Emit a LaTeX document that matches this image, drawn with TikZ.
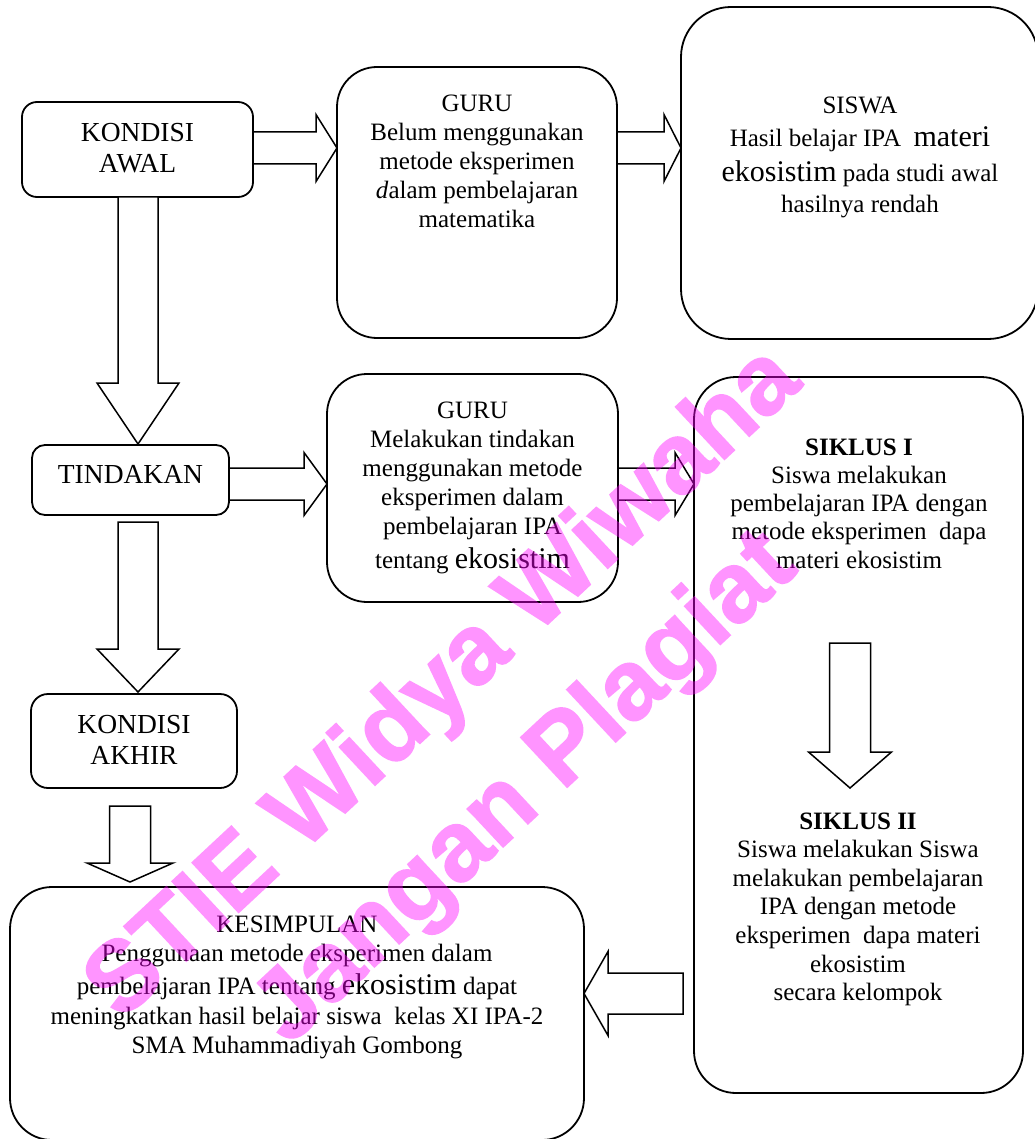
\documentclass[tikz,border=0pt]{standalone}
\usepackage{fontspec}
\setmainfont{Liberation Serif}
\newfontfamily\wmfont[BoldFeatures={FakeBold=1.5}]{Liberation Sans}
\definecolor{wmpink}{RGB}{255,0,255}
\newcommand\ml[1]{\begin{tabular}[t]{@{}c@{}}#1\end{tabular}}
\newcommand\eko{{\fontsize{30}{34}\selectfont ekosistim}}
% right/left block arrow: shaft start x, head base x, centre y, shaft half, head half, tip x
\newcommand\arrH[6]{\draw[barrow] (#1,#3-#4) -- (#2,#3-#4) -- (#2,#3-#5) -- (#6,#3) -- (#2,#3+#5) -- (#2,#3+#4) -- (#1,#3+#4) -- cycle;}
% down block arrow: shaft start y, head base y, centre x, shaft half, head half, tip y
\newcommand\arrV[6]{\draw[barrow] (#3-#4,#1) -- (#3-#4,#2) -- (#3-#5,#2) -- (#3,#6) -- (#3+#5,#2) -- (#3+#4,#2) -- (#3+#4,#1) -- cycle;}
\tikzset{
  box/.style={draw, line width=1.8pt, inner sep=0pt},
  barrow/.style={draw, line width=1.5pt, fill=white, line join=miter},
  txt/.style={inner sep=0pt, anchor=base, font=\fontsize{25}{29}\selectfont},
  bigtxt/.style={inner sep=0pt, anchor=base, font=\fontsize{27.5}{31}\selectfont},
  wm/.style={rotate=43, text=wmpink, inner sep=0pt,
             font=\wmfont\bfseries\fontsize{99}{99}\selectfont}
}
\begin{document}
\begin{tikzpicture}[x=1pt,y=-1pt]
\useasboundingbox (0,0) rectangle (1034,1139);

% boxes
\node[box, rounded corners=15pt, minimum width=231pt, minimum height=95pt] (kawal) at (137.5,149.5) {};
\node[box, rounded corners=40pt, minimum width=280pt, minimum height=271pt] (guru1) at (477,202.5) {};
\node[box, rounded corners=50pt, minimum width=357pt, minimum height=332pt] (siswa) at (859.5,173) {};
\node[box, rounded corners=13pt, minimum width=197pt, minimum height=70pt] (tind) at (130.5,480) {};
\node[box, rounded corners=40pt, minimum width=291pt, minimum height=228pt] (guru2) at (472.5,488) {};
\node[box, rounded corners=42pt, minimum width=329pt, minimum height=716pt] (siklus) at (858.5,735) {};
\node[box, rounded corners=17pt, minimum width=206pt, minimum height=94pt] (kakhir) at (134,741) {};
\node[box, rounded corners=42pt, minimum width=574pt, minimum height=253pt] (kesim) at (297,1013.5) {};

% block arrows
\arrH{253}{316}{148}{16}{33.5}{337}
\arrH{617}{664}{148}{16}{33.5}{681}
\arrV{197}{383}{138}{20}{41}{444}
\arrH{229}{304}{484}{16}{31.5}{327}
\arrH{618}{675}{484}{16}{31.5}{694}
\arrV{522}{649}{138}{20}{41}{692}
\arrV{806}{863}{130}{20.5}{43}{882}
\arrH{683}{608}{993.5}{20.5}{42}{584}
\arrV{643}{752}{850}{20.5}{41.5}{788}

% texts
\node[bigtxt] (tkawal) at (137.5,142) {\ml{KONDISI\\AWAL}};
\node[txt] (tguru1) at (477,112) {\ml{GURU\\Belum menggunakan\\metode eksperimen\\\textit{d}alam pembelajaran\\matematika}};
\node[txt] (tsiswa) at (860,114) {\ml{SISWA\\[4pt]Hasil belajar IPA~ {\fontsize{30}{34}\selectfont materi}\\[5pt]\eko{} pada studi awal\\[2pt]hasilnya rendah}};
\node[bigtxt] (ttind) at (130.5,483) {TINDAKAN};
\node[txt] (tguru2) at (472.5,418) {\ml{GURU\\Melakukan tindakan\\menggunakan metode\\eksperimen dalam\\pembelajaran IPA\\[5pt]tentang \eko}};
\node[txt, font=\fontsize{25}{28.3}\selectfont] (tsik1) at (859,455) {\ml{\textbf{SIKLUS I}\\Siswa melakukan\\pembelajaran IPA dengan\\metode eksperimen~ dapa\\materi ekosistim}};
\node[txt, font=\fontsize{25}{28.6}\selectfont] (tsik2) at (858,829) {\ml{\textbf{SIKLUS II}\\Siswa melakukan Siswa\\melakukan pembelajaran\\IPA dengan metode\\eksperimen~ dapa materi\\ekosistim\\secara kelompok}};
\node[bigtxt] (tkakhir) at (134,733) {\ml{KONDISI\\AKHIR}};
\node[txt] (tkesim) at (297,932) {\ml{KESIMPULAN\\Penggunaan metode eksperimen dalam\\[4pt]pembelajaran IPA tentang \eko{} dapat\\[1pt]meningkatkan hasil belajar siswa~ kelas XI IPA-2\\SMA Muhammadiyah Gombong}};

% watermark
\begin{scope}[transparency group, opacity=0.42]
\node[wm] (wm1) at (445,685) {STIE Widya Wiwaha};
\node[wm] (wm2) at (527,790) {Jangan Plagiat};
\end{scope}
\end{tikzpicture}
\end{document}
